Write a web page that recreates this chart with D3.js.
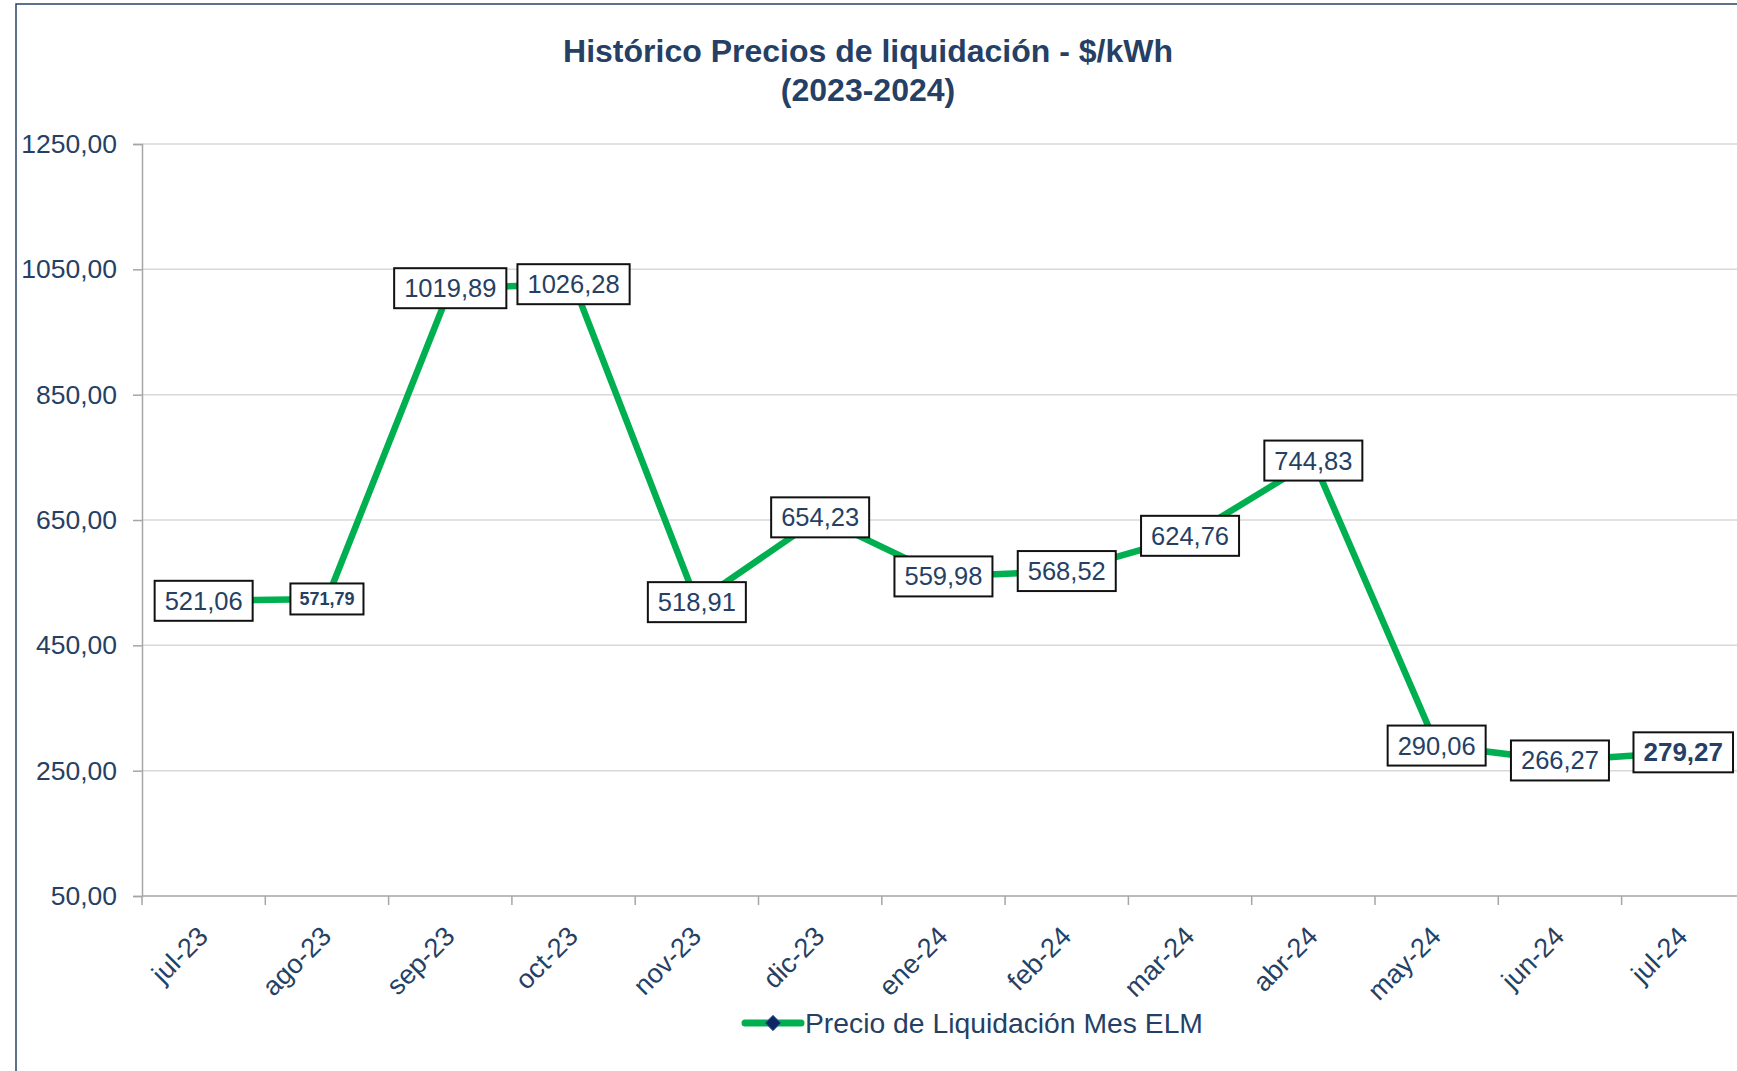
<!DOCTYPE html>
<html>
<head>
<meta charset="utf-8">
<script src="https://cdn.jsdelivr.net/npm/d3@7"></script>
<style>
  html, body { margin: 0; padding: 0; background: #fff; overflow: hidden; }
  svg { display: block; }
</style>
</head>
<body>
<div id="chart"></div>
<script>
/* Histórico Precios de liquidación - line chart with boxed labels */

const months = ['jul-23', 'ago-23', 'sep-23', 'oct-23', 'nov-23', 'dic-23', 'ene-24',
  'feb-24', 'mar-24', 'abr-24', 'may-24', 'jun-24', 'jul-24'];
const prices = [521.06, 524, 1019.89, 1026.28, 518.91, 654.23, 559.98,
  568.52, 624.76, 744.83, 290.06, 266.27, 279.27];
// labels typed by hand in the source chart
const labelOverride = { 'ago-23': 571.79 };
const boldLabels = ['ago-23', 'jul-24'];
const yTicks = [50, 250, 450, 650, 850, 1050, 1250];
const titleLines = ['Histórico Precios de liquidación - $/kWh', '(2023-2024)'];
const seriesName = 'Precio de Liquidación Mes ELM';

const W = 1737, H = 1071;
const cfg = {
  left: 142, top: 144, bottom: 896, band: 123.3,
  navy: '#263f64',
  green: '#00B050',
  grid: '#d9d9d9',
  axis: '#a6a6a6',
  font: "'Liberation Sans', Arial, sans-serif",
};

const esFormat = d3.formatLocale({ decimal: ',', thousands: '', grouping: [3], currency: ['$', ''] }).format('.2f');

const svg = d3.select('#chart').append('svg')
  .attr('width', W).attr('height', H)
  .attr('font-family', cfg.font);

// chart frame (cropped on right/bottom)
svg.append('path')
  .attr('d', `M16,${H + 5} L16,4 L${W + 5},4`)
  .attr('fill', 'none').attr('stroke', '#2a4266').attr('stroke-width', 1.5);

// Title
svg.append('text')
  .attr('x', 868).attr('y', 51)
  .attr('text-anchor', 'middle').attr('dominant-baseline', 'central')
  .attr('fill', cfg.navy).attr('font-size', '32px').attr('font-weight', 'bold')
  .selectAll('tspan').data(titleLines).join('tspan')
  .attr('x', 868).attr('dy', (d, i) => i ? 39 : 0)
  .text(d => d);

// Scales
const x = d3.scaleBand()
  .domain(months)
  .range([cfg.left, cfg.left + months.length * cfg.band])
  .padding(0);

const y = d3.scaleLinear()
  .domain([d3.min(yTicks), d3.max(yTicks)])
  .range([cfg.bottom, cfg.top]);

// Grid lines
svg.append('g').selectAll('line').data(yTicks.filter(t => t !== 50)).join('line')
  .attr('x1', cfg.left).attr('x2', x.range()[1])
  .attr('y1', d => y(d)).attr('y2', d => y(d))
  .attr('stroke', cfg.grid).attr('stroke-width', 1.5);

// Y axis
const yAxis = svg.append('g')
  .attr('transform', `translate(${cfg.left},0)`)
  .call(d3.axisLeft(y).tickValues(yTicks).tickFormat(esFormat).tickSize(9).tickPadding(16));
yAxis.select('.domain').attr('stroke', cfg.axis).attr('stroke-width', 1.5);
yAxis.selectAll('.tick line').attr('stroke', cfg.axis).attr('stroke-width', 1.5);
yAxis.selectAll('.tick text')
  .attr('fill', cfg.navy).attr('font-size', '26.5px').attr('font-family', cfg.font);

// X axis (ticks between categories)
const xAxis = svg.append('g').attr('transform', `translate(0,${cfg.bottom})`);
xAxis.append('line')
  .attr('x1', cfg.left).attr('x2', x.range()[1])
  .attr('stroke', cfg.axis).attr('stroke-width', 1.5);
xAxis.selectAll('line.tk').data(d3.range(months.length + 1)).join('line')
  .attr('class', 'tk')
  .attr('x1', i => cfg.left + i * x.bandwidth()).attr('x2', i => cfg.left + i * x.bandwidth())
  .attr('y1', 0).attr('y2', 9)
  .attr('stroke', cfg.axis).attr('stroke-width', 1.5);
xAxis.selectAll('text').data(months).join('text')
  .attr('transform', d => `translate(${x(d) + x.bandwidth() / 2 + 6},42) rotate(-45)`)
  .attr('text-anchor', 'end')
  .attr('fill', cfg.navy).attr('font-size', '27px')
  .text(d => d);

// Line
const cx = d => x(d) + x.bandwidth() / 2;
const line = d3.line()
  .x((d, i) => cx(months[i]))
  .y(d => y(d));

svg.append('path')
  .datum(prices)
  .attr('d', line)
  .attr('fill', 'none')
  .attr('stroke', cfg.green)
  .attr('stroke-width', 6.5)
  .attr('stroke-linejoin', 'round');

// Data labels (boxed, centred on points)
const labels = svg.append('g');
months.forEach((m, i) => {
  const bold = boldLabels.includes(m);
  const small = m in labelOverride;
  const val = small ? labelOverride[m] : prices[i];
  const g = labels.append('g')
    .attr('transform', `translate(${cx(m)},${y(prices[i])})`);
  const rect = g.append('rect')
    .attr('fill', '#fff').attr('stroke', '#111').attr('stroke-width', 2);
  const t = g.append('text')
    .attr('text-anchor', 'middle').attr('dominant-baseline', 'central')
    .attr('fill', cfg.navy)
    .attr('font-size', small ? '18px' : (bold ? '26px' : '25.5px'))
    .attr('font-weight', bold ? 'bold' : 'normal')
    .text(esFormat(val));
  const w = t.node().getComputedTextLength();
  const padX = small ? 9 : 10;
  const h = small ? 31 : 40;
  rect.attr('x', -w / 2 - padX).attr('y', -h / 2)
    .attr('width', w + padX * 2).attr('height', h);
});

// Legend
const lg = svg.append('g').attr('transform', 'translate(745,1023)');
lg.append('line')
  .attr('x1', 0).attr('x2', 56)
  .attr('stroke', cfg.green).attr('stroke-width', 7).attr('stroke-linecap', 'round');
lg.append('path')
  .attr('d', d3.symbol(d3.symbolDiamond2, 150)())
  .attr('transform', 'translate(28,0)')
  .attr('fill', '#0d2763').attr('stroke', '#3a5a9a').attr('stroke-width', 1);
lg.append('text')
  .attr('x', 60).attr('y', 0)
  .attr('dominant-baseline', 'central')
  .attr('fill', cfg.navy).attr('font-size', '28.3px')
  .text(seriesName);
</script>
</body>
</html>
